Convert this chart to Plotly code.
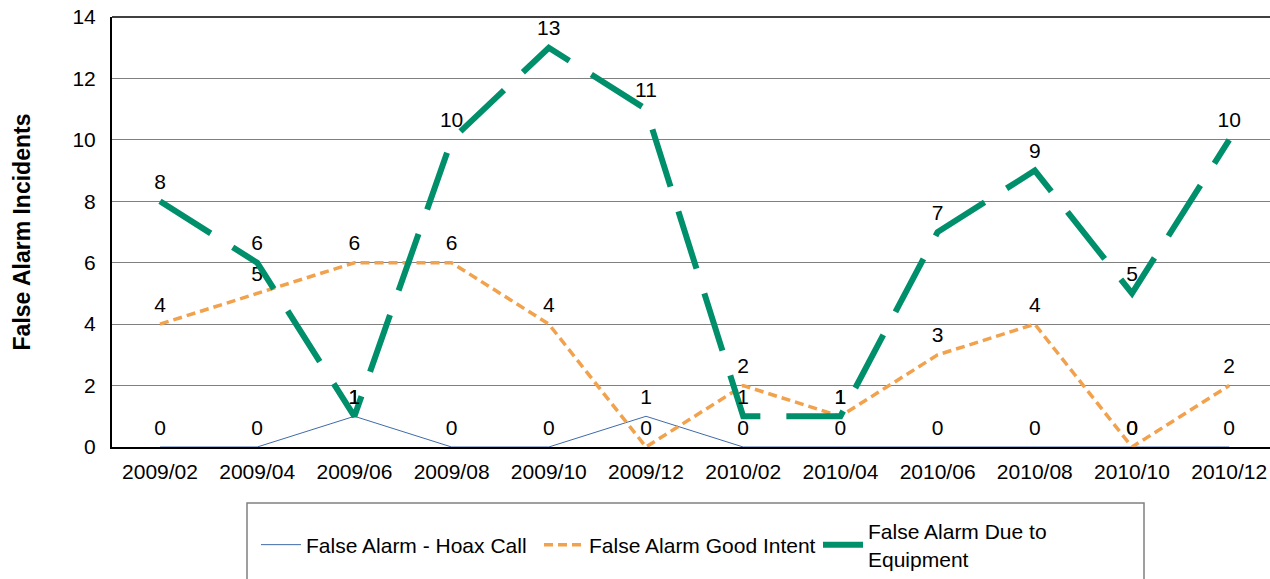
import plotly.graph_objects as go

categories = ["2009/02", "2009/04", "2009/06", "2009/08", "2009/10", "2009/12",
              "2010/02", "2010/04", "2010/06", "2010/08", "2010/10", "2010/12"]
hoax = [0, 0, 1, 0, 0, 1, 0, 0, 0, 0, 0, 0]
good_intent = [4, 5, 6, 6, 4, 0, 2, 1, 3, 4, 0, 2]
equipment = [8, 6, 1, 10, 13, 11, 1, 1, 7, 9, 5, 10]

FONT = "Liberation Sans, Arial, sans-serif"
FS = 21
xs = list(range(len(categories)))
HIDDEN = dict(size=10, color="rgba(0,0,0,0)")

fig = go.Figure()
fig.add_trace(go.Scatter(
    x=xs, y=hoax, mode="lines+markers+text", name="False Alarm - Hoax Call",
    line=dict(color="#3f6aa8", width=1), marker=HIDDEN, legend="legend",
    text=[str(v) for v in hoax], textposition="top center",
    textfont=dict(family=FONT, size=FS, color="#000"), cliponaxis=False))
fig.add_trace(go.Scatter(
    x=xs, y=good_intent, mode="lines+markers+text", name="False Alarm Good Intent",
    line=dict(color="#f2a14c", width=3.5, dash="9px,5px"), marker=HIDDEN,
    legend="legend",
    text=[str(v) for v in good_intent], textposition="top center",
    textfont=dict(family=FONT, size=FS, color="#000"), cliponaxis=False))
fig.add_trace(go.Scatter(
    x=xs, y=equipment, mode="lines+markers+text", name="False Alarm Due to<br>Equipment",
    line=dict(color="#008f6b", width=6, dash="60px,26px"), marker=HIDDEN,
    legend="legend2",
    text=[str(v) for v in equipment], textposition="top center",
    textfont=dict(family=FONT, size=FS, color="#000"), cliponaxis=False))

W, H = 1270, 579
L, R = 112, 1270
T, B = 17, 447
step = 97.2
x0 = -(160 - L) / step
x1 = (R - 160) / step


def px(X):
    return (X - L) / (R - L)


def py(Y):
    return (B - Y) / (B - T)


legend_common = dict(orientation="h", xanchor="left", yanchor="middle",
                     bgcolor="rgba(0,0,0,0)", borderwidth=0,
                     font=dict(size=FS), itemwidth=40, valign="middle",
                     tracegroupgap=0)

fig.update_layout(
    width=W, height=H,
    margin=dict(l=L, r=W - R, t=T, b=H - B, autoexpand=False),
    plot_bgcolor="white", paper_bgcolor="white",
    font=dict(family=FONT, size=FS, color="#000"),
    xaxis=dict(range=[x0, x1], tickmode="array", tickvals=xs, ticktext=categories,
               showgrid=False, zeroline=False, showline=True, linecolor="#000",
               linewidth=2, ticks="", tickfont=dict(size=FS), ticklabelstandoff=5,
               automargin=False),
    yaxis=dict(range=[0, 14], tickmode="array", tickvals=[0, 2, 4, 6, 8, 10, 12, 14],
               showgrid=True, gridcolor="#808080", ticklabeloverflow="allow",
               gridwidth=1, zeroline=False, showline=True, linecolor="#000",
               linewidth=2, ticks="", tickfont=dict(size=FS), ticklabelstandoff=10,
               automargin=False,
               title=dict(text="<b>False Alarm Incidents</b>", font=dict(size=23),
                          standoff=35)),
    showlegend=True,
    legend=dict(x=px(256), y=py(545), entrywidth=228, **legend_common),
    legend2=dict(x=px(818), y=py(545), **legend_common),
    shapes=[
        dict(type="rect", xref="paper", yref="paper",
             x0=px(247), x1=px(1144), y0=py(640), y1=py(503),
             line=dict(color="#808080", width=1.5), fillcolor="rgba(0,0,0,0)"),
        dict(type="line", xref="paper", yref="paper", x0=0, x1=1, y0=1, y1=1,
             line=dict(color="#000", width=1.5)),
    ],
)

fig.write_html("out.html", config={"displayModeBar": False},
               post_script="document.body.style.margin='0';")
